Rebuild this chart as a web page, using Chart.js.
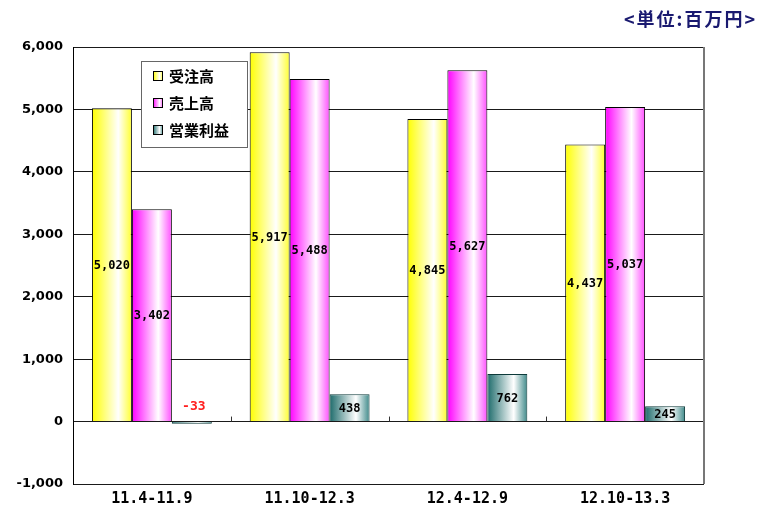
<!DOCTYPE html>
<html>
<head>
<meta charset="utf-8">
<script src="https://cdn.jsdelivr.net/npm/chart.js@4"></script>
<style>
html,body{margin:0;padding:0;background:#fff;}
#wrap{width:765px;height:520px;position:relative;}
</style>
</head>
<body>
<div id="wrap"><canvas id="grafico"></canvas></div>
<script>
// categories and values
const categorias = ["11.4-11.9", "11.10-12.3", "12.4-12.9", "12.10-13.3"];
const series = ["受注高", "売上高", "営業利益"];
const juchu = [5020, 5917, 4845, 4437];
const uriage = [3402, 5488, 5627, 5037];
const eigyo = [-33, 438, 762, 245];
const yMin = -1000, yMax = 6000, yStep = 1000;
const unidade = "<単位:百万円>";

const catPct = 0.76;
const cores = [
  ["#ffff00", "#ffffff", "#ffff30"],
  ["#ff00ff", "#ffffff", "#ff50ff"],
  ["#1d6b6b", "#ffffff", "#3f8a8a"]
];
const bordas = ["#000000", "#000000", "#0d3a3a"];
const fonteJP = "'Noto Sans CJK JP', 'Noto Sans', sans-serif";
const fonteMono = "'DejaVu Sans Mono', 'Liberation Mono', monospace";

function grad(ctx, x0, x1, c){
  let g = ctx.createLinearGradient(x0, 0, x1, 0);
  g.addColorStop(0, c[0]);
  g.addColorStop(0.66, c[1]);
  g.addColorStop(1, c[2]);
  return g;
}

function corBarra(context){
  const chart = context.chart;
  const xs = chart.scales.x;
  const di = context.datasetIndex;
  if(!xs || context.dataIndex === undefined) return cores[di][0];
  const catW = (xs.right - xs.left) / categorias.length;
  const grupo = catW * catPct;
  const barW = grupo / series.length;
  const centro = xs.getPixelForValue(context.dataIndex);
  const esq = centro - grupo/2 + di*barW;
  if(!isFinite(esq) || !isFinite(barW) || barW <= 0) return cores[di][0];
  return grad(chart.ctx, esq, esq + barW, cores[di]);
}

const extras = {
  id: "extras",
  afterDraw(chart){
    const ctx = chart.ctx;
    const ca = chart.chartArea;
    const xs = chart.scales.x, ys = chart.scales.y;
    const zero = ys.getPixelForValue(0);
    ctx.save();
    // right frame
    ctx.strokeStyle = "#777";
    ctx.lineWidth = 2;
    ctx.beginPath();
    ctx.moveTo(ca.right, ca.top);
    ctx.lineTo(ca.right, ca.bottom);
    ctx.stroke();
    // ticks on zero line between categories
    ctx.strokeStyle = "#333";
    ctx.lineWidth = 1;
    for(let i = 1; i < categorias.length; i++){
      let x = Math.round((xs.getPixelForValue(i-1) + xs.getPixelForValue(i))/2) + 0.5;
      ctx.beginPath();
      ctx.moveTo(x, zero - 5);
      ctx.lineTo(x, zero);
      ctx.stroke();
    }
    // value labels
    ctx.font = "bold 12px " + fonteMono;
    ctx.textAlign = "center";
    ctx.textBaseline = "middle";
    chart.data.datasets.forEach((ds, di) => {
      chart.getDatasetMeta(di).data.forEach((el, i) => {
        const v = ds.data[i];
        const txt = v.toLocaleString("en-US");
        if(v < 0){
          ctx.font = "bold 13px " + fonteMono;
          ctx.fillStyle = "#ff2020";
          ctx.fillText(txt, el.x + 2, zero - 15);
          ctx.font = "bold 12px " + fonteMono;
        } else {
          ctx.fillStyle = "#000";
          ctx.fillText(txt, el.x, (el.y + el.base)/2 + 1);
        }
      });
    });
    // legend box
    const lx = 141, ly = 61, lw = 106, lh = 86;
    ctx.fillStyle = "#fff";
    ctx.fillRect(lx, ly, lw, lh);
    ctx.strokeStyle = "#666";
    ctx.lineWidth = 1;
    ctx.strokeRect(lx + 0.5, ly + 0.5, lw, lh);
    ctx.font = "bold 15px " + fonteJP;
    ctx.textAlign = "left";
    series.forEach((s, k) => {
      const yy = ly + 15 + k*27;
      ctx.fillStyle = grad(ctx, lx + 12, lx + 22, cores[k]);
      ctx.fillRect(lx + 12, yy - 5, 10, 10);
      ctx.strokeStyle = "#000";
      ctx.strokeRect(lx + 12.5, yy - 4.5, 9, 9);
      ctx.fillStyle = "#000";
      ctx.fillText(s, lx + 28, yy);
    });
    // unit text
    ctx.font = "bold 18px " + fonteJP;
    ctx.fillStyle = "#1a1a70";
    ctx.textAlign = "right";
    ctx.letterSpacing = "2px";
    ctx.fillText(unidade, 757, 19);
    ctx.restore();
  }
};

const ctx = document.getElementById("grafico");

new Chart(ctx, {
  type: "bar",
  data: {
    labels: categorias,
    datasets: [juchu, uriage, eigyo].map((d, k) => ({
      label: series[k],
      data: d,
      backgroundColor: corBarra,
      borderColor: bordas[k],
      borderWidth: 1,
      categoryPercentage: catPct,
      barPercentage: 1
    }))
  },
  options: {
    responsive: true,
    maintainAspectRatio: false,
    animation: false,
    layout: { padding: { top: 47, right: 61, left: 0, bottom: 0 } },
    plugins: {
      legend: { display: false },
      tooltip: { enabled: false }
    },
    scales: {
      x: {
        grid: { display: false, drawTicks: false },
        border: { display: false },
        ticks: {
          color: "#000",
          padding: 6,
          font: { family: fonteMono, size: 15, weight: "bold" }
        },
        afterFit(s){ s.height = 36; }
      },
      y: {
        min: yMin,
        max: yMax,
        ticks: {
          stepSize: yStep,
          color: "#000",
          padding: 10,
          font: { family: "'DejaVu Sans', sans-serif", size: 13, weight: "bold" },
          callback: v => v.toLocaleString("en-US")
        },
        grid: { color: "#1a1a1a", lineWidth: 1, drawTicks: false },
        border: { display: true, color: "#000", width: 1 },
        afterFit(s){ s.width = 73; }
      }
    }
  },
  plugins: [extras]
});
</script>
</body>
</html>
